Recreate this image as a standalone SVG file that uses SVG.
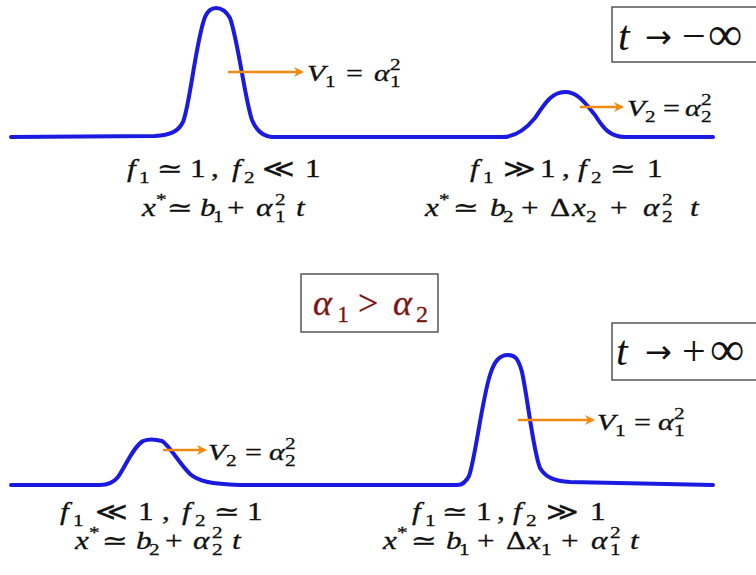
<svg xmlns="http://www.w3.org/2000/svg" width="756" height="575" viewBox="0 0 756 575">
<defs>
<marker id="ah" markerWidth="10" markerHeight="10" refX="8" refY="5" orient="auto" markerUnits="userSpaceOnUse">
<path d="M0,0 L10,5 L0,10 L3,5 Z" fill="#ef8a12"/>
</marker>
<style>
text{font-family:"Liberation Serif","DejaVu Serif",serif;fill:#111;}
.m{font-size:25px;stroke:#111;stroke-width:0.3;}
.v{font-size:24px;stroke:#111;stroke-width:0.3;}
.i{font-style:italic;}
.s{font-size:17px;}
.curve{fill:none;stroke:#1a1ae0;stroke-width:4;stroke-linejoin:round;stroke-linecap:round;}
.arr{stroke:#ef8a12;stroke-width:2.5;fill:none;}
.box{fill:#fff;stroke:#555;stroke-width:1.5;}
.big{font-size:42px;}
.ar{font-family:"DejaVu Sans",sans-serif;font-size:32px;}
.red{fill:#7a1515;font-size:36px;stroke:#7a1515;stroke-width:0.3;}
.red .s{font-size:24px;}
</style>
</defs>
<rect width="756" height="575" fill="#fff"/>

<g id="curve-top">
<path class="curve" d="M11,137 L155,136 C170,135 178,132 183,122 C190,105 196,40 205,17 C208,10 212,8 216,8 C222,8 226,11 230,18 C238,40 245,100 252,120 C256,130 262,136 272,137 L503,137 C515,137 525,130 535,118 C545,103 552,92 565,92 C578,92 585,103 595,115 C603,128 610,137 625,137 L713,137"/>
</g>
<g id="curve-bottom">
<path class="curve" d="M11,485 L100,485 C108,485 114,482 118,477 C126,466 132,448 143,441 C148,439 155,439 162,441 C170,446 178,462 190,474 C198,481 210,484 240,485 L457,485 C463,485 466,482 469,476 C475,460 482,400 490,375 C494,362 499,355 508,355 C515,355 518,358 522,372 C528,400 533,450 540,468 C546,478 555,481 570,482 L713,485"/>
</g>

<g id="connectors">
<line class="arr" x1="228" y1="72" x2="302" y2="72" marker-end="url(#ah)"/>
<line class="arr" x1="580" y1="107" x2="622" y2="107" marker-end="url(#ah)"/>
<line class="arr" x1="163" y1="450" x2="205" y2="450" marker-end="url(#ah)"/>
<line class="arr" x1="518" y1="420" x2="593" y2="420" marker-end="url(#ah)"/>
</g>

<g id="v1-top">
<text class="v" transform="scale(1.25,1)"><tspan class="i" x="245.6" y="81">V</tspan><tspan class="s" x="260" y="87">1</tspan><tspan x="276.8" y="81">=</tspan><tspan class="i" x="299.2" y="81">α</tspan><tspan class="s" x="312" y="87">1</tspan><tspan class="s" x="312" y="70">2</tspan></text>
</g>
<g id="v2-top">
<text class="v" transform="scale(1.25,1)"><tspan class="i" x="501.6" y="116">V</tspan><tspan class="s" x="516" y="122">2</tspan><tspan x="530.4" y="116">=</tspan><tspan class="i" x="548" y="116">α</tspan><tspan class="s" x="560.8" y="122">2</tspan><tspan class="s" x="560.8" y="105">2</tspan></text>
</g>
<g id="v2-bottom">
<text class="v" transform="scale(1.25,1)"><tspan class="i" x="166.4" y="460">V</tspan><tspan class="s" x="180.8" y="466">2</tspan><tspan x="196" y="460">=</tspan><tspan class="i" x="215.2" y="460">α</tspan><tspan class="s" x="228" y="466">2</tspan><tspan class="s" x="228" y="449">2</tspan></text>
</g>
<g id="v1-bottom">
<text class="v" transform="scale(1.25,1)"><tspan class="i" x="477.6" y="430">V</tspan><tspan class="s" x="492" y="436">1</tspan><tspan x="507.2" y="430">=</tspan><tspan class="i" x="526.4" y="430">α</tspan><tspan class="s" x="539.2" y="436">1</tspan><tspan class="s" x="539.2" y="419">2</tspan></text>
</g>

<g id="box-minus">
<rect class="box" x="612" y="7" width="160" height="55"/>
<text class="big"><tspan class="i" x="618" y="50">t</tspan><tspan class="ar" x="645" y="48">→</tspan><tspan x="682" y="50">−</tspan><tspan x="708" y="50" font-size="48">∞</tspan></text>
</g>
<g id="box-plus">
<rect class="box" x="612" y="323" width="160" height="57"/>
<text class="big"><tspan class="i" x="616" y="365">t</tspan><tspan class="ar" x="645" y="363">→</tspan><tspan x="682" y="365">+</tspan><tspan x="710" y="365" font-size="48">∞</tspan></text>
</g>
<g id="box-alpha">
<rect class="box" x="301" y="274" width="137" height="58"/>
<text class="red"><tspan class="i" x="313" y="315">α</tspan><tspan class="s" x="337" y="322">1</tspan><tspan x="358" y="315">&gt;</tspan><tspan class="i" x="393" y="315">α</tspan><tspan class="s" x="416" y="322">2</tspan></text>
</g>

<g id="label-top-left">
<text class="m" transform="scale(1.25,1)"><tspan class="i" x="101.6" y="177">f</tspan><tspan class="s" x="111.2" y="183">1</tspan><tspan x="125.6" y="177">≃</tspan><tspan x="152" y="177">1</tspan><tspan x="168.8" y="177">,</tspan><tspan class="i" x="185.6" y="177">f</tspan><tspan class="s" x="195.2" y="183">2</tspan><tspan x="209.6" y="177">≪</tspan><tspan x="244" y="177">1</tspan></text>
<text class="m" transform="scale(1.25,1)"><tspan class="i" x="113.6" y="216">x</tspan><tspan class="s" x="124.8" y="205">*</tspan><tspan x="133.6" y="216">≃</tspan><tspan class="i" x="160" y="216">b</tspan><tspan class="s" x="170.4" y="222">1</tspan><tspan x="181.6" y="216">+</tspan><tspan class="i" x="204.8" y="216">α</tspan><tspan class="s" x="220" y="222">1</tspan><tspan class="s" x="220" y="205">2</tspan><tspan class="i" x="236.8" y="216">t</tspan></text>
</g>
<g id="label-top-right">
<text class="m" transform="scale(1.25,1)"><tspan class="i" x="376" y="177">f</tspan><tspan class="s" x="386.4" y="183">1</tspan><tspan x="402.4" y="177">≫</tspan><tspan x="432" y="177">1</tspan><tspan x="449.6" y="177">,</tspan><tspan class="i" x="462.4" y="177">f</tspan><tspan class="s" x="472.8" y="183">2</tspan><tspan x="488" y="177">≃</tspan><tspan x="517.6" y="177">1</tspan></text>
<text class="m" transform="scale(1.25,1)"><tspan class="i" x="340" y="216">x</tspan><tspan class="s" x="351.2" y="205">*</tspan><tspan x="362.4" y="216">≃</tspan><tspan class="i" x="392" y="216">b</tspan><tspan class="s" x="402.4" y="222">2</tspan><tspan x="416.8" y="216">+</tspan><tspan x="440" y="216">Δ</tspan><tspan class="i" x="457.6" y="216">x</tspan><tspan class="s" x="468.8" y="222">2</tspan><tspan x="488" y="216">+</tspan><tspan class="i" x="514.4" y="216">α</tspan><tspan class="s" x="529.6" y="222">2</tspan><tspan class="s" x="529.6" y="205">2</tspan><tspan class="i" x="552" y="216">t</tspan></text>
</g>
<g id="label-bottom-left">
<text class="m" transform="scale(1.25,1)"><tspan class="i" x="48" y="520">f</tspan><tspan class="s" x="58.4" y="526">1</tspan><tspan x="76" y="520">≪</tspan><tspan x="110.4" y="520">1</tspan><tspan x="129.6" y="520">,</tspan><tspan class="i" x="145.6" y="520">f</tspan><tspan class="s" x="156" y="526">2</tspan><tspan x="171.2" y="520">≃</tspan><tspan x="197.6" y="520">1</tspan></text>
<text class="m" transform="scale(1.25,1)"><tspan class="i" x="60" y="549">x</tspan><tspan class="s" x="71.2" y="538">*</tspan><tspan x="81.6" y="549">≃</tspan><tspan class="i" x="108.8" y="549">b</tspan><tspan class="s" x="119.2" y="555">2</tspan><tspan x="132" y="549">+</tspan><tspan class="i" x="154.4" y="549">α</tspan><tspan class="s" x="169.6" y="555">2</tspan><tspan class="s" x="169.6" y="538">2</tspan><tspan class="i" x="185.6" y="549">t</tspan></text>
</g>
<g id="label-bottom-right">
<text class="m" transform="scale(1.25,1)"><tspan class="i" x="329.6" y="520">f</tspan><tspan class="s" x="340" y="526">1</tspan><tspan x="353.6" y="520">≃</tspan><tspan x="380.8" y="520">1</tspan><tspan x="397.6" y="520">,</tspan><tspan class="i" x="410.4" y="520">f</tspan><tspan class="s" x="420.8" y="526">2</tspan><tspan x="436.8" y="520">≫</tspan><tspan x="472" y="520">1</tspan></text>
<text class="m" transform="scale(1.25,1)"><tspan class="i" x="306.4" y="549">x</tspan><tspan class="s" x="317.6" y="538">*</tspan><tspan x="328.8" y="549">≃</tspan><tspan class="i" x="356.8" y="549">b</tspan><tspan class="s" x="367.2" y="555">1</tspan><tspan x="381.6" y="549">+</tspan><tspan x="404.8" y="549">Δ</tspan><tspan class="i" x="421.6" y="549">x</tspan><tspan class="s" x="432.8" y="555">1</tspan><tspan x="448.8" y="549">+</tspan><tspan class="i" x="472.8" y="549">α</tspan><tspan class="s" x="488" y="555">1</tspan><tspan class="s" x="488" y="538">2</tspan><tspan class="i" x="504" y="549">t</tspan></text>
</g>
</svg>
